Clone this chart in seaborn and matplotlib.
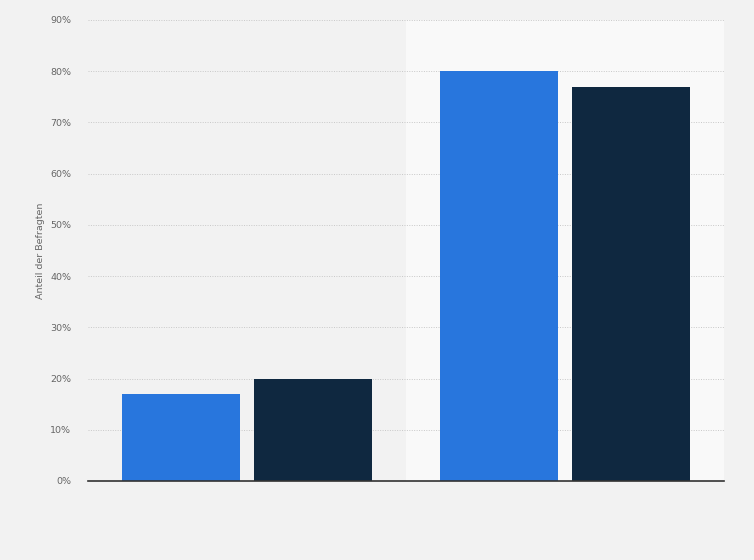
import pandas as pd
import matplotlib
matplotlib.use("Agg")
import matplotlib.pyplot as plt
import seaborn as sns
from matplotlib.ticker import MultipleLocator, FuncFormatter

# Daten
kategorien = ["Gruppe 1", "Gruppe 2"]
serien = ["Serie A", "Serie B"]
werte_a = [17, 80]
werte_b = [20, 77]

df = pd.DataFrame({
    "kategorie": kategorien * 2,
    "serie": [serien[0]] * 2 + [serien[1]] * 2,
    "wert": werte_a + werte_b,
})

sns.set_style("white")
plt.rcParams['font.family'] = ['DejaVu Sans']

bg = "#f2f2f2"
fig = plt.figure(figsize=(7.54, 5.6), dpi=100, facecolor=bg)
ax = fig.add_axes([88 / 754, 1 - 481 / 560, (724 - 88) / 754, (481 - 20) / 560])
ax.set_facecolor(bg)

# hellerer Hintergrund hinter der zweiten Gruppe
ax.axvspan(0.5, 1.5, color="#f9f9f9", zorder=0, lw=0)

sns.barplot(data=df, x="kategorie", y="wert", hue="serie",
            palette=["#2876dd", "#0f2840"], saturation=1, width=0.83, gap=0.1,
            linewidth=0, legend=False, ax=ax, zorder=3)

ax.set_xlim(-0.5, 1.5)
ax.set_ylim(0, 90)
ax.yaxis.set_major_locator(MultipleLocator(10))
ax.yaxis.set_major_formatter(FuncFormatter(lambda v, p: f"{v:.0f}%"))
ax.grid(axis="y", color="#c8c8c8", linestyle=(0, (1, 1.5)), linewidth=0.7, zorder=1)
ax.set_axisbelow(True)

for s in ["top", "right", "left"]:
    ax.spines[s].set_visible(False)
ax.spines["bottom"].set_color("#333333")
ax.spines["bottom"].set_linewidth(1.2)
ax.spines["bottom"].set_zorder(5)

ax.set_xticks([])
ax.set_xlabel("")
ax.tick_params(axis="y", length=0, labelsize=6.8, labelcolor="#666666", pad=12)
ax.set_ylabel("Anteil der Befragten", fontsize=6.8, color="#666666", labelpad=4)

fig.savefig("out.png", dpi=100, facecolor=bg)
